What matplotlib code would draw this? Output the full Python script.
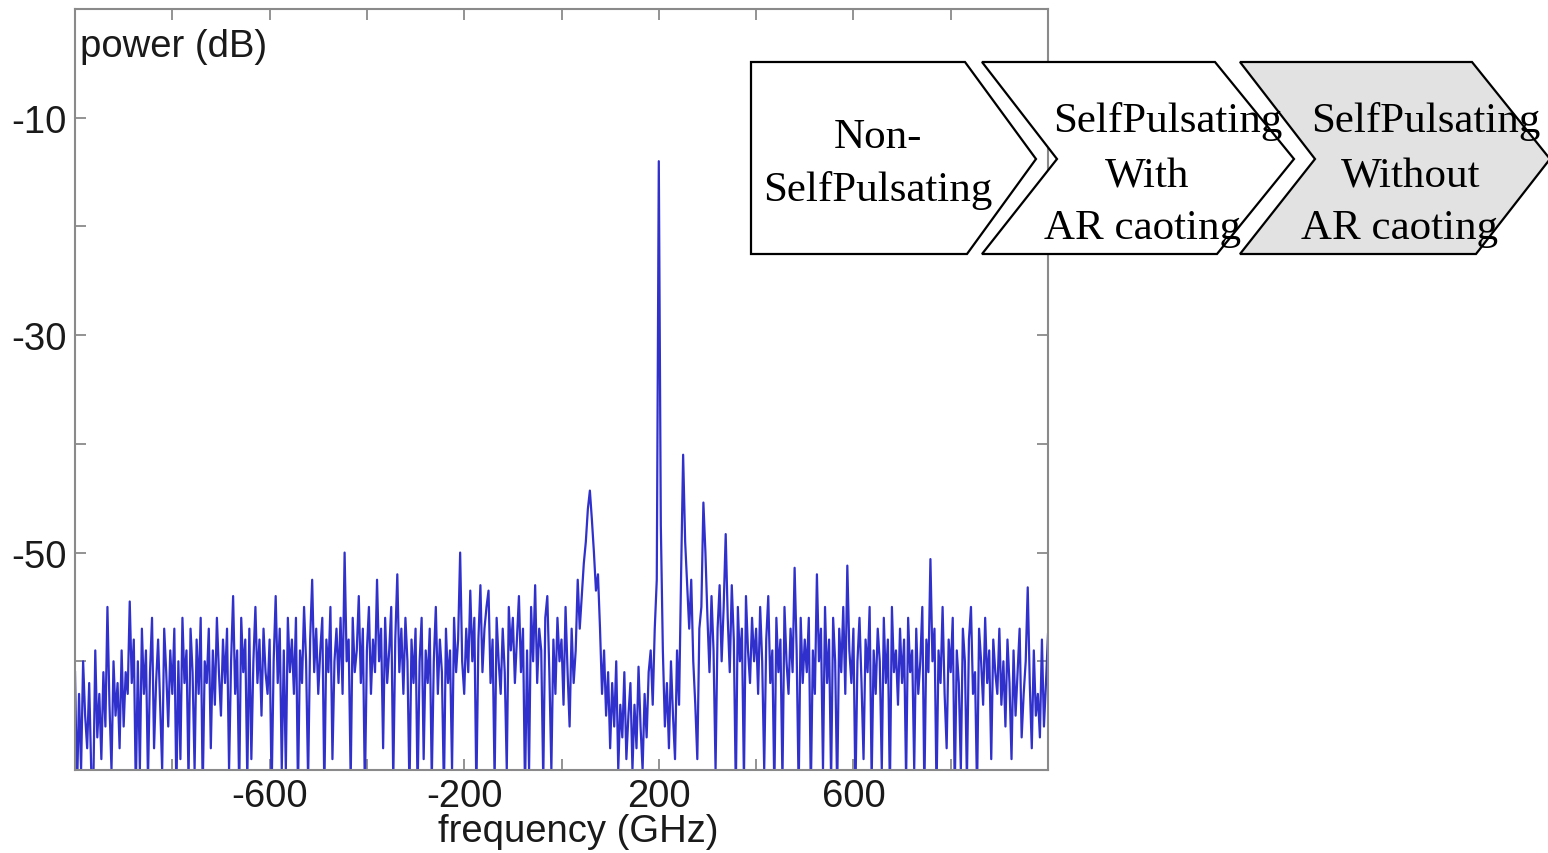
import numpy as np
import matplotlib.pyplot as plt
from matplotlib.patches import Polygon

# spectrum, 24 values per 100 GHz from -1000 to 1000
# (values under -70 are below the bottom of the plot and get clipped)
freqStart = -1000
freqStop = 1000
power = [
	-61, -72, -63, -70, -60, -65, -68, -62, -70, -72, -59, -67, -63, -69, -61, -66, -55, -64, -70, -60, -65, -62, -68, -59,
	-66, -61, -63, -54.5, -62, -58, -72, -60, -70, -57, -63, -59, -71, -61, -56, -68, -62, -58, -64, -70, -57, -61, -66, -59,
	-63, -57, -72, -60, -69, -56, -62, -59, -71, -57, -61, -70, -58, -63, -56, -72, -60, -62, -57, -68, -59, -64, -56, -61,
	-65, -58, -62, -57, -70, -60, -54, -63, -59, -72, -56, -61, -58, -71, -57, -69, -60, -55, -62, -58, -65, -57, -61, -63,
	-58, -72, -60, -54, -62, -57, -70, -59, -70, -56, -61, -58, -63, -56, -72, -59, -62, -55, -60, -71, -58, -52.5, -61, -57,
	-63, -59, -56, -72, -58, -61, -55, -69, -60, -57, -62, -56, -63, -50, -60, -58, -71, -56, -61, -59, -54, -62, -57, -72,
	-59, -55, -63, -58, -61, -52.5, -60, -57, -68, -56, -62, -59, -55, -71, -58, -52, -61, -57, -63, -56, -60, -72, -58, -62,
	-57, -72, -60, -56, -69, -59, -62, -57, -71, -60, -55, -63, -58, -61, -72, -57, -62, -59, -70, -56, -61, -58, -50, -60,
	-63, -57, -61, -53.5, -60, -56, -72, -58, -53, -61, -57, -55, -53.5, -62, -58, -71, -56, -60, -63, -57, -61, -70, -55, -59,
	-56, -62, -58, -54, -61, -57, -72, -59, -70, -55, -60, -53, -62, -57, -59, -71, -56, -54, -61, -70, -58, -63, -56, -60,
	-58, -64, -55, -61, -66, -57, -62, -59, -52.5, -57, -54, -51, -49, -46, -44.3, -47, -50, -53.5, -52, -57, -63, -59, -65, -61,
	-68, -62, -66, -60, -70, -64, -67, -61, -69, -65, -62, -70, -64, -68, -60.5, -66, -70, -63, -67, -61, -59, -64, -57, -52.5,
	-14, -47.5, -59, -66, -62, -68, -60, -65, -69, -59, -64, -52, -41, -49, -53, -57, -52.5, -60, -64, -69, -57, -55, -45.4, -50,
	-56, -61, -54, -59, -70, -57, -53, -60, -55, -48.3, -56, -61, -53, -58, -72, -55, -60, -57, -71, -54, -59, -62, -56, -60,
	-57, -63, -55, -60, -70, -58, -54, -62, -59, -72, -56, -61, -58, -71, -55, -60, -63, -57, -61, -51.4, -59, -72, -56, -62,
	-58, -61, -56, -72, -59, -63, -52, -60, -57, -70, -55, -62, -58, -71, -56, -60, -72, -57, -61, -55, -63, -51.2, -59, -62,
	-57, -72, -60, -56, -62, -69, -58, -61, -55, -71, -59, -63, -57, -60, -70, -56, -62, -58, -72, -55, -61, -59, -64, -57,
	-62, -58, -71, -56, -61, -59, -70, -57, -63, -60, -55, -72, -58, -61, -50.6, -60, -57, -72, -59, -62, -55, -63, -68, -58,
	-61, -56, -72, -59, -62, -70, -57, -60, -71, -58, -55, -63, -61, -72, -57, -60, -64, -56, -62, -59, -69, -58, -61, -63,
	-57, -64, -60, -66, -58, -62, -69, -59, -65, -61, -57, -67, -63, -60, -53.2, -62, -68, -59, -65, -63, -67, -58, -66, -62,
	-57.5,
]

xTicks = [-800, -600, -400, -200, 0, 200, 400, 600, 800]
xLabeled = [-600, -200, 200, 600]
yTicks = [-70, -60, -50, -40, -30, -20, -10, 0]
yLabeled = [-50, -30, -10]

stages = [
	['Non-', 'SelfPulsating'],
	['SelfPulsating', 'With', 'AR caoting'],
	['SelfPulsating', 'Without', 'AR caoting'],
]

W, H = 1548, 854
fig = plt.figure(figsize=(W/100, H/100), dpi=100)
ax = fig.add_axes([75/W, 1 - 771/H, (1048-75)/W, (771-10)/H])

freq = np.linspace(freqStart, freqStop, len(power))
ax.plot(freq, power, color='#3030cc', lw=1.6)

ax.set_xlim(freqStart, freqStop)
ax.set_ylim(-70, 0)
ax.set_xticks(xTicks)
ax.set_xticklabels([str(t) if t in xLabeled else '' for t in xTicks])
ax.set_yticks(yTicks)
ax.set_yticklabels([str(t) if t in yLabeled else '' for t in yTicks])

sans = 'Liberation Sans'
fs = 27.5
ax.tick_params(direction='in', length=8, width=1.2, color='#808080',
			   top=True, right=True, labelsize=fs, labelcolor='#1a1a1a', pad=6)
for lab in ax.get_xticklabels() + ax.get_yticklabels():
	lab.set_family(sans)
for s in ax.spines.values():
	s.set_color('#8a8a8a')
	s.set_linewidth(1.5)

ax.set_xlabel('frequency (GHz)', fontsize=fs, family=sans, color='#1a1a1a')
ax.xaxis.set_label_coords((578-75)/973, -(814-771)/761)
ax.text(0.005, 0.952, 'power (dB)', transform=ax.transAxes, fontsize=fs,
		family=sans, color='#1a1a1a', va='center', ha='left')

# chevrons in pixel coords of the figure
def px(x, y):
	return (x / W, 1 - y / H)

top, mid, bot = 63, 160, 255
shapes = [
	[(751, top), (965, top), (1036, mid), (967, bot), (751, bot)],
	[(982, top), (1215, top), (1294, mid), (1217, bot), (982, bot), (1057, mid)],
	[(1240, top), (1472, top), (1550, mid), (1476, bot), (1240, bot), (1315, mid)],
]
fills = ['white', 'white', '#e2e2e2']
for pts, fc in zip(shapes, fills):
	fig.patches.append(Polygon([px(*p) for p in pts], closed=True, transform=fig.transFigure,
							   facecolor=fc, edgecolor='black', lw=1.6, zorder=5))

serif = 'Liberation Serif'
textPos = [
	[(878, 138), (878, 190)],
	[(1168, 122), (1147, 177), (1143, 229)],
	[(1426, 122), (1411, 177), (1400, 229)],
]
for lines, pos in zip(stages, textPos):
	for t, (x, y) in zip(lines, pos):
		fig.text(*px(x, y), t, fontsize=31, family=serif, ha='center', va='center', zorder=6)

fig.savefig('out.png', dpi=100)
